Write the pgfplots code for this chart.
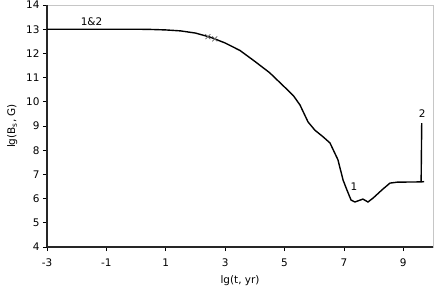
\documentclass[border=0pt]{standalone}
\usepackage{fontspec}
\setmainfont{DejaVu Sans}
\usepackage{pgfplots}
\pgfplotsset{compat=1.18}

\begin{document}
\begin{tikzpicture}
\begin{axis}[
    name=ax,
    scale only axis,
    width=386bp, height=242bp,
    xmin=-3, xmax=10, ymin=4, ymax=14,
    xtick={-3,-1,...,9}, ytick={4,5,...,14},
    axis background/.style={draw=gray!45, line width=0.8pt},
    axis x line*=bottom, axis y line*=left,
    axis line style={-, black!85, line width=1.3pt},
    tick align=outside, major tick length=4bp,
    tick style={black, line width=0.7pt},
    font=\fontsize{10.5}{12}\selectfont,
    /pgf/number format/assume math mode=true,
    xticklabel style={yshift=-4bp},
    xlabel={lg(t, yr)},
    ylabel={lg(B\textsubscript{s}, G)},
    xlabel style={yshift=-2bp},
    ylabel style={yshift=2bp},
]
\addplot[black, line width=1.4pt] coordinates {
    (-3,13.0) (-1,13.0) (0,13.0) (0.5,12.99) (1,12.97) (1.5,12.93)
    (2,12.84) (2.5,12.67) (3,12.43) (3.5,12.12) (4,11.67) (4.5,11.2)
    (5,10.61) (5.3,10.25) (5.52,9.87) (5.79,9.17) (6.02,8.83) (6.3,8.55)
    (6.53,8.30) (6.8,7.60) (6.97,6.77) (7.1,6.36) (7.24,5.94) (7.37,5.86)
    (7.64,5.98) (7.81,5.86) (7.98,6.02) (8.3,6.38) (8.55,6.64) (8.8,6.68)
    (9.6,6.69) (9.7,6.70)
};
\addplot[black, line width=1.4pt] coordinates {
    (9.6,6.69) (9.62,9.12)
};
% Excel-style cross markers on the curve
\addplot[only marks, mark=x, mark size=3.5bp, gray!80!black, line width=0.7pt] coordinates {
    (2.42,12.69) (2.65,12.60)
};
\node at (axis cs:-1.5,13.3) {1\&2};
\node at (axis cs:7.34,6.48) {1};
\node at (axis cs:9.64,9.52) {2};
\end{axis}
\pgfresetboundingbox
\path[use as bounding box] ([shift={(-47bp,-48bp)}]ax.south west) rectangle ([shift={(3bp,5bp)}]ax.north east);
\end{tikzpicture}
\end{document}
